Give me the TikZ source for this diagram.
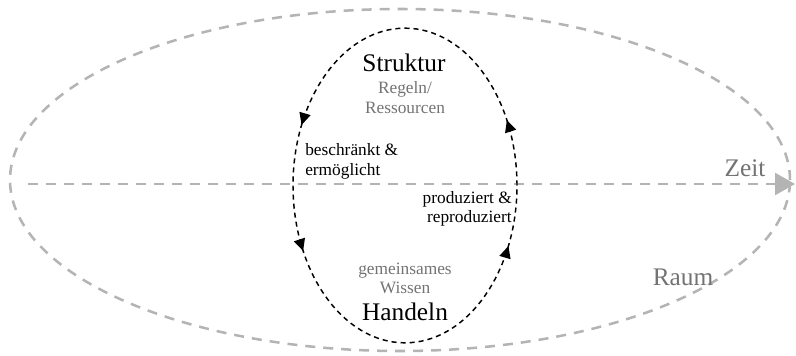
\documentclass[tikz,border=0pt]{standalone}
\usepackage{fontspec}
\setmainfont{Liberation Serif}
\usetikzlibrary{arrows.meta,decorations.markings}
\definecolor{ringgray}{RGB}{180,180,180}
\definecolor{textgray}{RGB}{115,115,115}
\begin{document}
\begin{tikzpicture}[x=0.75pt,y=0.75pt,
        ring/.style={draw=ringgray,line width=1.9pt,dash pattern=on 7.5pt off 6pt},
        cycle/.style={draw=black,line width=1.1pt,dash pattern=on 3.8pt off 3pt},
        big/.style={font=\fontsize{19}{22}\selectfont},
        small/.style={font=\fontsize{13}{14.5}\selectfont,inner sep=0pt},
        faint/.style={small,text=textgray,align=center}]
    \useasboundingbox (0,0) rectangle (796,355);

    \draw[ring] (400,175) ellipse [x radius=292.5pt,y radius=128.25pt];
    \coordinate (zeitstart) at (28,171);
    \coordinate (zeitend) at (795,171);
    \draw[ring,-{Triangle[length=15pt,width=16.5pt,fill=ringgray]}] (zeitstart) -- (zeitend);

    \draw[cycle,postaction={decorate,
        decoration={markings,
            mark=at position 0.078 with {\arrow{Triangle[length=9pt,width=8.5pt]}},
            mark=at position 0.428 with {\arrow{Triangle[length=9pt,width=8.5pt]}},
            mark=at position 0.578 with {\arrow{Triangle[length=9pt,width=8.5pt]}},
            mark=at position 0.928 with {\arrow{Triangle[length=9pt,width=8.5pt]}}}}]
        (405,169.5) ellipse [x radius=84pt,y radius=118pt];

    \node[big] (struktur) at (404,292) {Struktur};
    \node[faint] (regeln) at (405,257.5) {Regeln/\\Ressourcen};
    \node[small,anchor=west,align=left] (beschraenkt) at (305,193.5) {beschränkt \&\\ermöglicht};
    \node[small,anchor=east,align=right] (produziert) at (512,146) {produziert \&\\reproduziert};
    \node[faint] (wissen) at (405,76.5) {gemeinsames\\Wissen};
    \node[big] (handeln) at (405,43) {Handeln};
    \node[big,text=textgray] (zeit) at (745,187) {Zeit};
    \node[big,text=textgray] (raum) at (683,78) {Raum};
\end{tikzpicture}
\end{document}
